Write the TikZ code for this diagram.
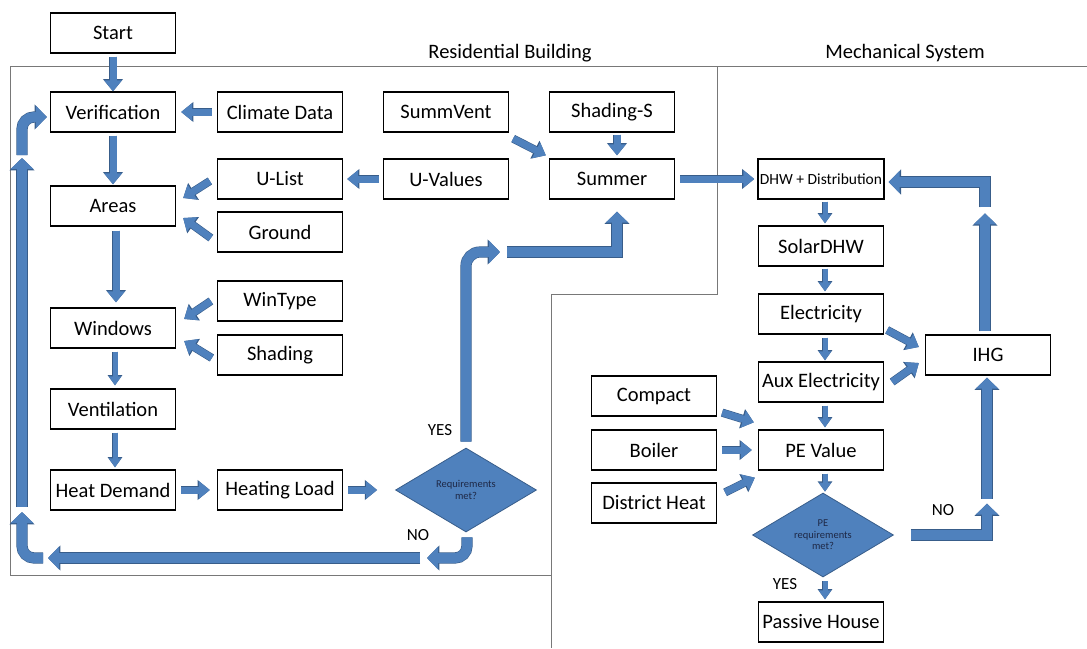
\documentclass[tikz,border=0pt]{standalone}
\usepackage{fontspec}
\setmainfont{Carlito}
\usetikzlibrary{arrows.meta,shapes.geometric,calc}
\definecolor{flowblue}{RGB}{79,129,189}
\definecolor{flowedge}{RGB}{56,93,138}
\definecolor{framegray}{RGB}{120,120,120}
\definecolor{flowtext}{RGB}{30,40,70}
\tikzset{
  box/.style={draw=black, line width=1.3pt, fill=white, minimum width=125pt, minimum height=40pt, inner sep=2pt, font=\fontsize{20.5}{24}\selectfont},
  decision/.style={diamond, aspect=1.68, fill=flowblue, draw=flowedge, line width=0.8pt, minimum width=141pt, minimum height=84pt, inner sep=0pt, align=center, text=flowtext, font=\fontsize{10.5}{11.5}\selectfont},
  frame/.style={draw=framegray, line width=0.9pt},
  title/.style={font=\fontsize{20.5}{24}\selectfont},
  answer/.style={font=\fontsize{17}{20}\selectfont},
  flow/.style={draw=flowblue, line width=7pt, -{Triangle[length=11pt,width=17pt]},
    preaction={draw=flowedge, line width=8.2pt, -{Triangle[length=12.3pt,width=19.3pt]}}},
  thinflow/.style={draw=flowblue, line width=5pt, -{Triangle[length=9pt,width=12pt]},
    preaction={draw=flowedge, line width=6.2pt, -{Triangle[length=10.2pt,width=14pt]}}},
  bigflow/.style={draw=flowblue, line width=10pt, -{Triangle[length=11pt,width=22pt]},
    preaction={draw=flowedge, line width=11.2pt, -{Triangle[length=12.3pt,width=24.3pt]}}}
}
\begin{document}
\begin{tikzpicture}[x=1pt,y=-1pt]
\useasboundingbox (0,0) rectangle (1087,648);
% frames of the two parts
\draw[frame] (10,66) -- (717,66) -- (717,294) -- (551,294) -- (551,575) -- (10,575) -- cycle;
\draw[frame] (717,66) -- (1087,66);
\draw[frame] (551,575) -- (551,648);
\node[title] (restitle) at (510,53) {Residential Building};
\node[title] (mechtitle) at (905,53) {Mechanical System};

% residential building
\node[box] (start) at (113,33) {Start};
\node[box] (verif) at (113,112) {Verification};
\node[box] (climate) at (280,112) {Climate Data};
\node[box] (ulist) at (280,179) {U-List};
\node[box] (areas) at (113,206) {Areas};
\node[box] (ground) at (280,232) {Ground};
\node[box] (summvent) at (446,112) {SummVent};
\node[box] (uvalues) at (446,179) {U-Values};
\node[box] (shadings) at (612,112) {Shading-S};
\node[box] (summer) at (612,179) {Summer};
\node[box] (wintype) at (280,301) {WinType};
\node[box] (windows) at (113,328) {Windows};
\node[box] (shading) at (280,355) {Shading};
\node[box] (vent) at (113,409) {Ventilation};
\node[box] (heatdem) at (113,490) {Heat Demand};
\node[box] (heatload) at (280,490) {Heating Load};
\node[decision] (req) at (466,490) {Requirements\\met?};

% mechanical system
\node[box, font=\fontsize{15.5}{18}\selectfont] (dhw) at (821,179) {DHW + Distribution};
\node[box] (solar) at (821,246) {SolarDHW};
\node[box] (elec) at (821,314) {Electricity};
\node[box] (aux) at (821,382) {Aux Electricity};
\node[box] (pe) at (821,450) {PE Value};
\node[box] (compact) at (654,396) {Compact};
\node[box] (boiler) at (654,450) {Boiler};
\node[box] (district) at (654,503) {District Heat};
\node[decision] (pereq) at (823,535) {PE\\requirements\\met?};
\node[box] (passive) at (821,622) {Passive House};
\node[box] (ihg) at (988,355) {IHG};

% building arrows
\draw[flow, shorten <=3pt] (start) -- (verif);
\draw[flow, shorten <=5pt, shorten >=5pt] (climate) -- (verif);
\draw[flow, shorten <=3pt, shorten >=1pt] (verif) -- (areas);
\draw[flow] ($(ulist.west)+(-7,2)$) -- ($(areas.east)+(7,-8)$);
\draw[flow] ($(ground.west)+(-6,6)$) -- ($(areas.east)+(7,12)$);
\draw[flow, shorten <=4pt, shorten >=4pt] (uvalues) -- (ulist);
\draw[flow, shorten <=4pt, shorten >=5pt] ($(areas.south)+(3,0)$) -- ($(windows.north)+(3,0)$);
\draw[flow] ($(wintype.west)+(-6,0)$) -- ($(windows.east)+(8,-9)$);
\draw[flow] ($(shading.west)+(-5,3)$) -- ($(windows.east)+(8,13)$);
\draw[thinflow, shorten <=3pt, shorten >=3pt] ($(windows.south)+(2,0)$) -- ($(vent.north)+(2,0)$);
\draw[thinflow, shorten <=3pt, shorten >=2pt] ($(vent.south)+(2,0)$) -- ($(heatdem.north)+(2,0)$);
\draw[flow, shorten <=5pt, shorten >=7pt] (heatdem) -- (heatload);
\draw[flow, shorten <=5pt, shorten >=18pt] (heatload) -- (req);
\draw[flow] ($(summvent.south east)+(4,6)$) -- ($(summer.north west)+(-3,-3)$);
\draw[flow, shorten <=2pt, shorten >=3pt] ($(shadings.south)+(5,0)$) -- ($(summer.north)+(5,0)$);
\draw[flow, shorten <=5pt, shorten >=3pt] (summer) -- (dhw);

% yes and no paths
\coordinate (yesbend) at (504,252);
\coordinate (nobend) at (424,558);
\coordinate (loopbl) at (22,558);
\coordinate (looptl) at (22,117);
\draw[bigflow, rounded corners=14pt] ($(req.north)+(0,-6)$) |- ($(yesbend)+(-4,0)$);
\draw[bigflow] ($(yesbend)+(3,0)$) -| ($(summer.south)+(5,12)$);
\node[answer] (yes1) at (440,430) {YES};
\node[answer] (no1) at (418,535) {NO};
\draw[bigflow, rounded corners=12pt] ($(req.south)+(1,5)$) |- ($(nobend)+(3,0)$);
\draw[bigflow] ($(nobend)+(-4,0)$) -- ($(loopbl)+(26,0)$);
\draw[bigflow, rounded corners=12pt] ($(loopbl)+(21,0)$) -| ($(loopbl)+(0,-46)$);
\draw[bigflow] ($(loopbl)+(0,-51)$) -- ($(looptl)+(0,41)$);
\draw[bigflow, rounded corners=12pt] ($(looptl)+(0,38)$) |- ($(verif.west)+(-3,5)$);

% mechanical arrows
\draw[thinflow, shorten <=2pt, shorten >=2pt] ($(dhw.south)+(4,0)$) -- ($(solar.north)+(4,0)$);
\draw[thinflow, shorten <=2pt, shorten >=2pt] ($(solar.south)+(4,0)$) -- ($(elec.north)+(4,0)$);
\draw[thinflow, shorten <=3pt, shorten >=1pt] ($(elec.south)+(4,0)$) -- ($(aux.north)+(4,0)$);
\draw[thinflow, shorten <=3pt, shorten >=2pt] ($(aux.south)+(4,0)$) -- ($(pe.north)+(4,0)$);
\draw[thinflow] ($(pe.south)+(4,3)$) -- ($(pereq.north)+(2,-1)$);
\draw[thinflow] ($(pereq.south)+(2,4)$) -- ($(passive.north)+(4,-2)$);
\draw[flow] ($(compact.south east)+(5,-4)$) -- ($(pe.north west)+(-4,-7)$);
\draw[flow, shorten <=5pt, shorten >=6pt] (boiler) -- (pe);
\draw[flow] ($(district.north east)+(8,10)$) -- ($(pe.south west)+(-3,7)$);
\draw[flow] ($(elec.east)+(3,16)$) -- ($(ihg.west)+(-6,-8)$);
\draw[flow] ($(aux.east)+(8,0)$) -- ($(ihg.west)+(-6,8)$);
\node[answer] (yes2) at (785,584) {YES};
\node[answer] (no2) at (943,510) {NO};
\draw[bigflow] ($(pereq.east)+(17,0)$) -| ($(ihg.south)+(-1,128)$);
\draw[bigflow] ($(ihg.south)+(-1,123)$) -- ($(ihg.south)+(-1,2)$);
\draw[bigflow] ($(ihg.north)+(-3,-3)$) -- ($(ihg.north)+(-3,-121)$);
\draw[bigflow] ($(ihg.north)+(-3,-127)$) |- ($(dhw.east)+(4,3)$);
\end{tikzpicture}
\end{document}
